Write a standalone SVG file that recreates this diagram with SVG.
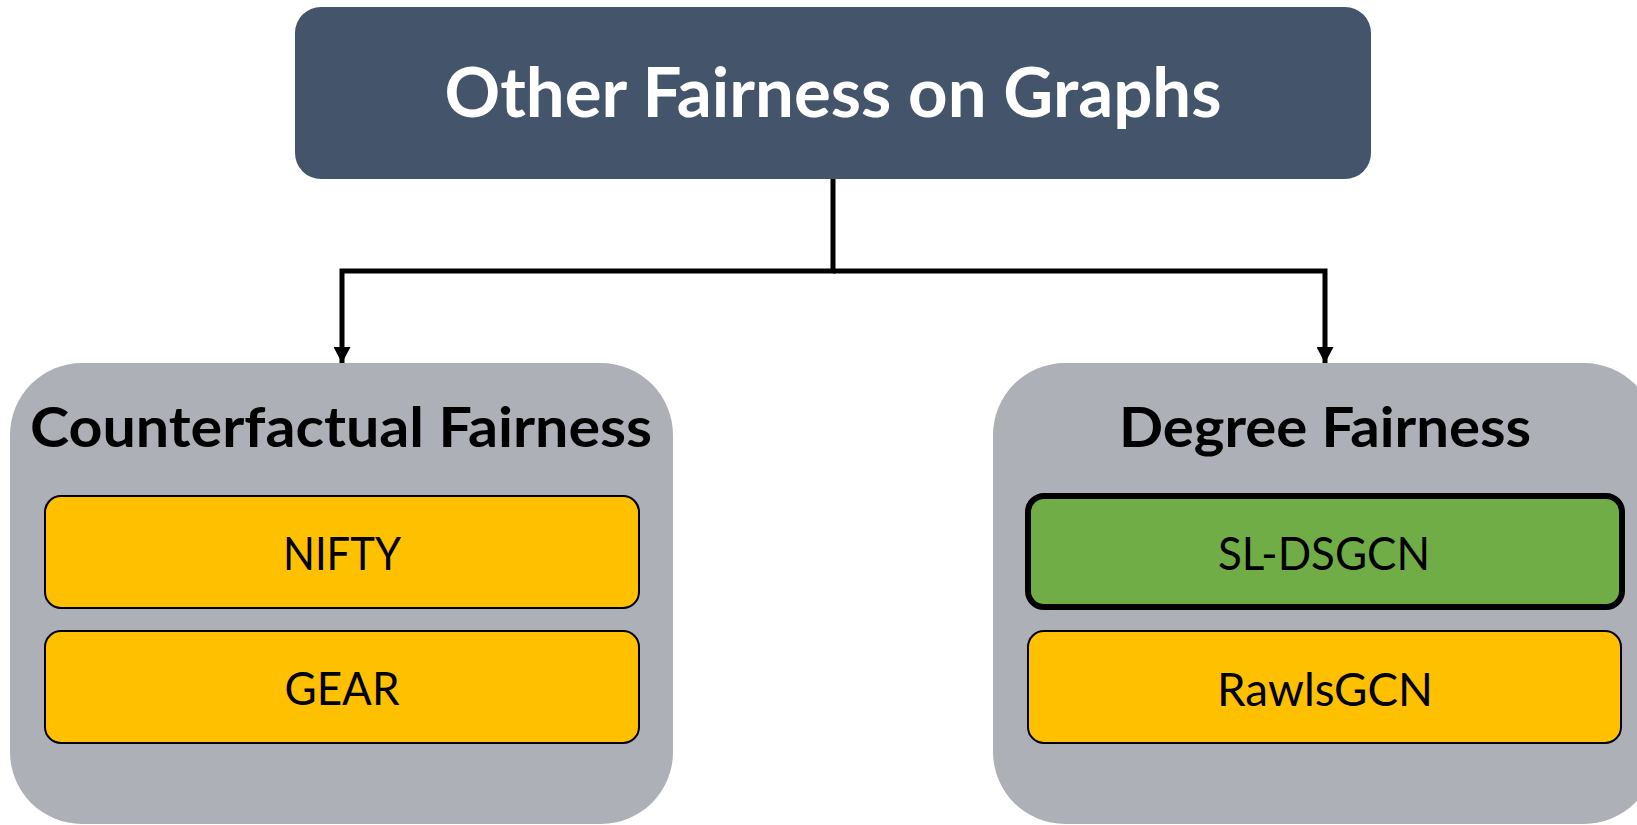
<svg xmlns="http://www.w3.org/2000/svg" width="1637" height="825" viewBox="0 0 1637 825">
<style>
.title{font-family:Lato,"Open Sans","Liberation Sans",sans-serif;font-weight:bold;text-anchor:middle}
.item{font-family:Lato,"Open Sans","Liberation Sans",sans-serif;font-size:46px;text-anchor:middle;fill:#000}
.group{fill:#ADB0B7}
.orange{fill:#FFC000;stroke:#000;stroke-width:2}
.green{fill:#70AD47;stroke:#000;stroke-width:6}
.conn{fill:none;stroke:#000;stroke-width:5}
</style>
<defs>
<marker id="arrow" markerUnits="userSpaceOnUse" markerWidth="17" markerHeight="16" viewBox="0 0 17 16" refX="8.5" refY="16" orient="0">
<path d="M0,0 L17,0 L8.5,16 Z" fill="#000"/>
</marker>
</defs>
<rect width="1637" height="825" fill="#fff"/>
<g id="connectors">
<path class="conn" d="M833,179 V271 H342 V363" marker-end="url(#arrow)"/>
<path class="conn" d="M833,271 H1325 V363" marker-end="url(#arrow)"/>
</g>
<g id="root">
<rect x="295" y="7" width="1076" height="172" rx="26" fill="#44546A"/>
<text class="title" x="833" y="117" font-size="69" fill="#fff" textLength="777" lengthAdjust="spacingAndGlyphs">Other Fairness on Graphs</text>
</g>
<g id="counterfactual">
<rect class="group" x="10" y="363" width="663" height="461" rx="72"/>
<text class="title" x="341" y="447" font-size="56" fill="#000" textLength="622" lengthAdjust="spacingAndGlyphs">Counterfactual Fairness</text>
</g>
<g id="nifty">
<rect class="orange" x="45" y="496" width="594" height="112" rx="16"/>
<text class="item" x="342" y="570" textLength="118" lengthAdjust="spacingAndGlyphs">NIFTY</text>
</g>
<g id="gear">
<rect class="orange" x="45" y="631" width="594" height="112" rx="16"/>
<text class="item" x="342" y="705" textLength="115" lengthAdjust="spacingAndGlyphs">GEAR</text>
</g>
<g id="degree">
<rect class="group" x="993" y="363" width="663" height="461" rx="72"/>
<text class="title" x="1325" y="447" font-size="56" fill="#000" textLength="412" lengthAdjust="spacingAndGlyphs">Degree Fairness</text>
</g>
<g id="sldsgcn">
<rect class="green" x="1028" y="496" width="594" height="111" rx="16"/>
<text class="item" x="1324" y="570" textLength="212" lengthAdjust="spacingAndGlyphs">SL-DSGCN</text>
</g>
<g id="rawlsgcn">
<rect class="orange" x="1028" y="631" width="593" height="112" rx="16"/>
<text class="item" x="1325" y="706" textLength="216" lengthAdjust="spacingAndGlyphs">RawlsGCN</text>
</g>
</svg>
